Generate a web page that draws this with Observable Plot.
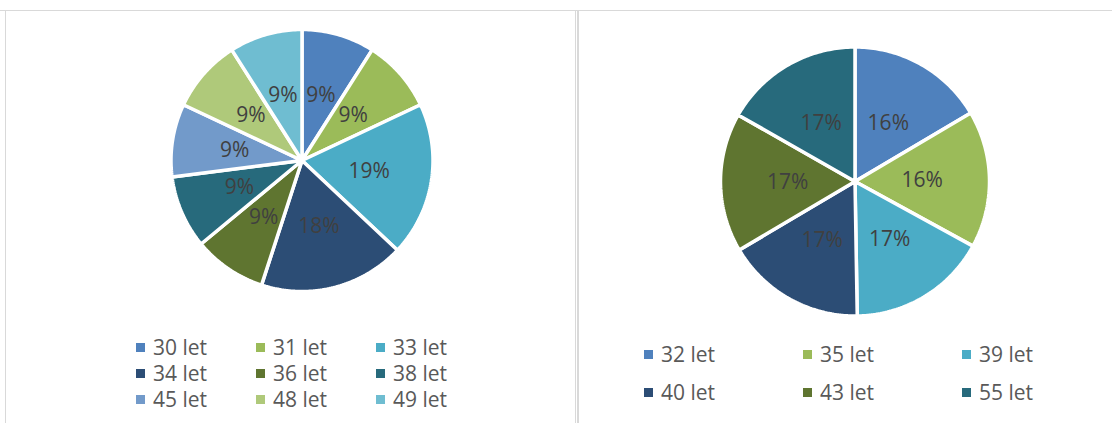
<!DOCTYPE html>
<html>
<head>
<meta charset="utf-8">
<script src="https://cdn.jsdelivr.net/npm/d3@7"></script>
<script src="https://cdn.jsdelivr.net/npm/@observablehq/plot@0.6"></script>
<style>
  html, body { margin: 0; padding: 0; background: #fff; }
  body { width: 1112px; height: 423px; position: relative; overflow: hidden; font-family: "Open Sans", "Lato", sans-serif; }
  .abs { position: absolute; }
  .line { position: absolute; background: #d9d9d9; }
  .legend { position: absolute; display: grid; color: #595959; font-size: 21px; }
  .item { display: flex; align-items: center; white-space: nowrap; }
  .sw { width: 9px; height: 9px; flex: none; }
</style>
</head>
<body>
<div class="line" style="left:0;top:10px;width:1112px;height:1px"></div>
<div class="line" style="left:5px;top:10px;width:1px;height:413px"></div>
<div class="line" style="left:575px;top:10px;width:1px;height:413px"></div>
<div class="line" style="left:577px;top:10px;width:2px;height:413px"></div>
<div id="left" class="abs" style="left:0;top:0"></div>
<div id="right" class="abs" style="left:578px;top:0"></div>
<div id="legLeft" class="legend" style="left:136px;top:334px;grid-template-columns:120px 120px 120px;grid-auto-rows:26px"></div>
<div id="legRight" class="legend" style="left:644px;top:335px;grid-template-columns:159px 159px 159px;grid-auto-rows:38px"></div>
<script>
// ---- data ----
const leftCategories = ["30 let", "31 let", "33 let", "34 let", "36 let", "38 let", "45 let", "48 let", "49 let"];
const leftValues = [9, 9, 19, 18, 9, 9, 9, 9, 9];
const leftColors = ["#4F81BD", "#9BBB59", "#4BACC6", "#2C4D75", "#5F7530", "#276A7C", "#729ACA", "#AFC97A", "#6FBDD1"];

const rightCategories = ["32 let", "35 let", "39 let", "40 let", "43 let", "55 let"];
const rightValues = [16.49, 16.49, 16.755, 16.755, 16.755, 16.755];
const rightColors = ["#4F81BD", "#9BBB59", "#4BACC6", "#2C4D75", "#5F7530", "#276A7C"];

// ---- helpers ----
function pieData(categories, values, labelR) {
  const total = d3.sum(values);
  const pts = [];
  const labels = [];
  let acc = 0;
  categories.forEach((c, i) => {
    const a0 = acc / total * 2 * Math.PI;
    acc += values[i];
    const a1 = acc / total * 2 * Math.PI;
    const n = Math.max(2, Math.ceil((a1 - a0) / (Math.PI / 180)));
    pts.push({category: c, x: 0, y: 0});
    for (let k = 0; k <= n; k++) {
      const a = a0 + (a1 - a0) * k / n;
      pts.push({category: c, x: Math.sin(a), y: Math.cos(a)});
    }
    pts.push({category: c, x: 0, y: 0});
    const am = (a0 + a1) / 2;
    labels.push({category: c, x: labelR * Math.sin(am), y: labelR * Math.cos(am), text: Math.round(values[i] / total * 100) + "%"});
  });
  return {pts, labels};
}

function pie(el, categories, values, colors, width, cx, cy, r, labelR) {
  const {pts, labels} = pieData(categories, values, labelR);
  const chart = Plot.plot({
    width, height: 423, margin: 0,
    style: {background: "transparent", overflow: "visible"},
    x: {axis: null, domain: [-1, 1], range: [cx - r, cx + r]},
    y: {axis: null, domain: [-1, 1], range: [cy + r, cy - r]},
    color: {domain: categories, range: colors},
    marks: [
      Plot.line(pts, {x: "x", y: "y", z: "category", fill: "category", stroke: "#fff", strokeWidth: 3.5, strokeLinejoin: "miter", curve: "linear"}),
      Plot.text(labels, {x: "x", y: "y", text: "text", fill: "#404040", fontSize: 21, fontFamily: "Open Sans, Lato, sans-serif"})
    ]
  });
  document.getElementById(el).appendChild(chart);
}

function legend(el, categories, colors, gap) {
  const box = document.getElementById(el);
  categories.forEach((c, i) => {
    const it = document.createElement("div");
    it.className = "item";
    it.innerHTML = `<span class="sw" style="background:${colors[i]};margin-right:${gap}px"></span><span>${c}</span>`;
    box.appendChild(it);
  });
}

pie("left", leftCategories, leftValues, leftColors, 576, 301.5, 160, 131, 0.52);
pie("right", rightCategories, rightValues, rightColors, 534, 276.5, 181, 134.5, 0.5);
legend("legLeft", leftCategories, leftColors, 8);
legend("legRight", rightCategories, rightColors, 8);
</script>
</body>
</html>
